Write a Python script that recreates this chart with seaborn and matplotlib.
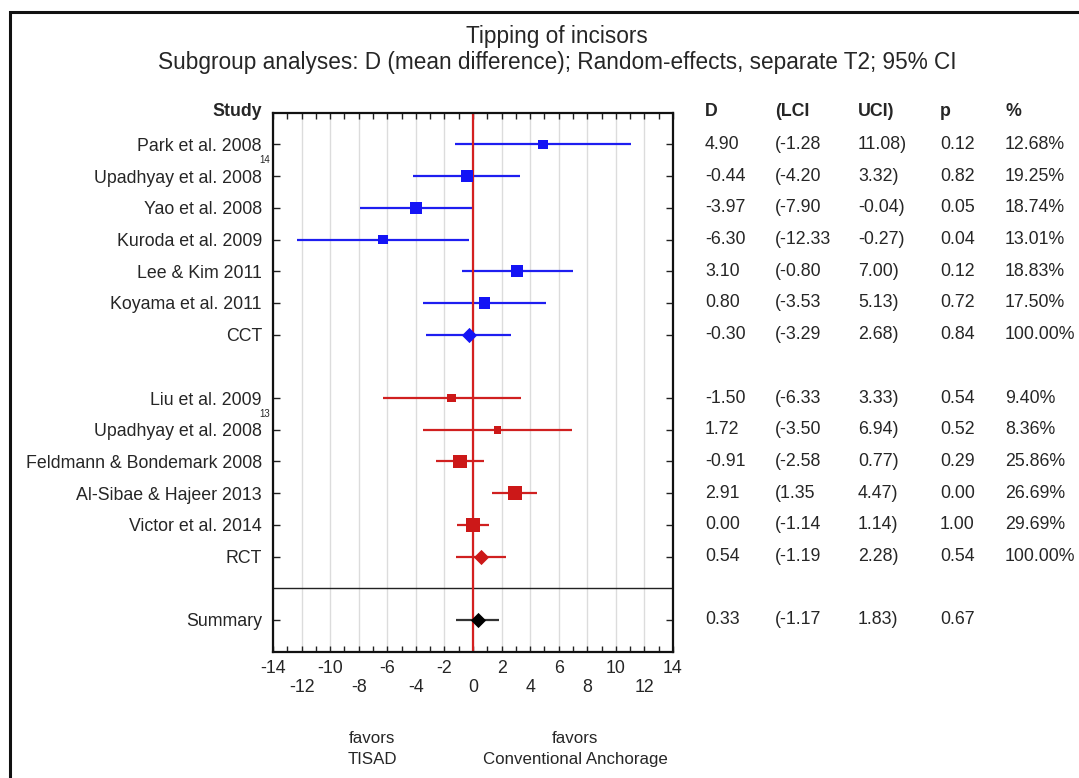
import numpy as np
import pandas as pd
import matplotlib
matplotlib.use("Agg")
import matplotlib.pyplot as plt
import matplotlib.transforms as mtransforms
from matplotlib.patches import Rectangle
import seaborn as sns

# ---------------- data ----------------
studies = ["Park et al. 2008", "Upadhyay et al. 2008", "Yao et al. 2008",
           "Kuroda et al. 2009", "Lee & Kim 2011", "Koyama et al. 2011", "CCT",
           "Liu et al. 2009", "Upadhyay et al. 2008", "Feldmann & Bondemark 2008",
           "Al-Sibae & Hajeer 2013", "Victor et al. 2014", "RCT", "Summary"]
superscripts = ["", "14", "", "", "", "", "", "", "13", "", "", "", "", ""]
d_vals = [4.90, -0.44, -3.97, -6.30, 3.10, 0.80, -0.30,
          -1.50, 1.72, -0.91, 2.91, 0.00, 0.54, 0.33]
lci_vals = [-1.28, -4.20, -7.90, -12.33, -0.80, -3.53, -3.29,
            -6.33, -3.50, -2.58, 1.35, -1.14, -1.19, -1.17]
uci_vals = [11.08, 3.32, -0.04, -0.27, 7.00, 5.13, 2.68,
            3.33, 6.94, 0.77, 4.47, 1.14, 2.28, 1.83]
p_vals = [0.12, 0.82, 0.05, 0.04, 0.12, 0.72, 0.84,
          0.54, 0.52, 0.29, 0.00, 1.00, 0.54, 0.67]
weights = [12.68, 19.25, 18.74, 13.01, 18.83, 17.50, 100.00,
           9.40, 8.36, 25.86, 26.69, 29.69, 100.00, None]
group = ["CCT"] * 7 + ["RCT"] * 6 + ["All"]
kind = ["study"] * 6 + ["pooled"] + ["study"] * 5 + ["pooled"] + ["summary"]
rows = [1, 2, 3, 4, 5, 6, 7, 9, 10, 11, 12, 13, 14, 16]
xticks = list(range(-14, 15, 2))
headers = ["D", "(LCI", "UCI)", "p", "%"]

df = pd.DataFrame({"study": studies, "d": d_vals, "lci": lci_vals, "uci": uci_vals,
                   "p": p_vals, "w": weights, "group": group, "kind": kind, "row": rows})

colors = {"CCT": "#1414f5", "RCT": "#cc1818", "All": "#000000"}
line_colors = {"CCT": "#1e1ef0", "RCT": "#d02020", "All": "#333333"}

# ---------------- figure ----------------
sns.set_style("white")
plt.rcParams["font.family"] = ["Liberation Sans", "DejaVu Sans"]
plt.rcParams["axes.unicode_minus"] = False

W, H = 1079, 778
fig = plt.figure(figsize=(W / 100, H / 100), dpi=100)
x0, x1, y0, y1 = 273, 673, 112.7, 651.7
ax = fig.add_axes([x0 / W, 1 - y1 / H, (x1 - x0) / W, (y1 - y0) / H])

fs = 12.8

# gridlines
for xv in xticks:
    ax.axvline(xv, color="#dcdcdc", lw=1.0, zorder=0)

# CI lines
for _, r in df.iterrows():
    ax.hlines(r["row"], r["lci"], r["uci"], color=line_colors[r["group"]], lw=1.6, zorder=2)

# study squares (area proportional to weight)
st = df[df["kind"] == "study"]
for g, sub in st.groupby("group"):
    sns.scatterplot(data=sub, x="d", y="row", size="w", sizes=(0, 380), size_norm=(0, 100),
                    marker="s", color=colors[g], edgecolor=colors[g], linewidth=0,
                    legend=False, ax=ax, zorder=3)
# pooled / summary diamonds
pl = df[df["kind"] != "study"]
for g, sub in pl.groupby("group"):
    sns.scatterplot(data=sub, x="d", y="row", marker="D", s=60, color=colors[g],
                    edgecolor=colors[g], linewidth=0, legend=False, ax=ax, zorder=4)

ax.axvline(0, color="#d42020", lw=1.6, zorder=2.5)
ax.axhline(15, color="#222222", lw=1.0, zorder=2)

ax.set_xlim(-14, 14)
ax.set_ylim(17, 0)
ax.set_xlabel("")
ax.set_ylabel("")

# x ticks: staggered labels
ax.set_xticks(xticks)
ax.set_xticklabels([str(v) if (v // 2) % 2 == 1 else "\n" + str(v) for v in xticks], fontsize=fs,
                   linespacing=1.15)
ax.set_xticks(range(-14, 15), minor=True)
ax.tick_params(axis="x", which="both", direction="in", top=True, bottom=True, length=4, width=1,
               pad=6, color="#222222")

# y ticks
ax.set_yticks(rows)
ax.set_yticklabels(studies, fontsize=fs)
ax.tick_params(axis="y", direction="in", left=True, right=True, length=5, width=1, pad=8,
               color="#222222")
for s in ax.spines.values():
    s.set_linewidth(1.6)
    s.set_color("#111111")

# "Study" header & superscripts
trans_l = mtransforms.blended_transform_factory(fig.transFigure, ax.transData)
fig.text(262 / W, 1 - 112 / H, "Study", fontsize=fs, fontweight="bold", ha="right", va="center")
for sup, r in zip(superscripts, rows):
    if sup:
        ax.text(265 / W, r - 0.5, sup, transform=trans_l, fontsize=7, ha="center", va="center")

# table columns
col_x = [705, 775, 858, 940, 1005]
for hx, h in zip(col_x, headers):
    fig.text(hx / W, 1 - 112 / H, h, fontsize=fs, fontweight="bold", ha="left", va="center")
for _, r in df.iterrows():
    vals = [f"{r['d']:.2f}", f"({r['lci']:.2f}", f"{r['uci']:.2f})", f"{r['p']:.2f}",
            "" if pd.isna(r["w"]) else f"{r['w']:.2f}%"]
    for cx, v in zip(col_x, vals):
        ax.text(cx / W, r["row"], v, transform=trans_l, fontsize=fs, ha="left", va="center")

# titles
tx = 557 / W
fig.text(tx, 1 - 37 / H, "Tipping of incisors", fontsize=16.3, ha="center", va="center")
fig.text(tx, 1 - 62 / H,
         "Subgroup analyses: D (mean difference); Random-effects, separate T2; 95% CI",
         fontsize=16.3, ha="center", va="center")

# favors labels
fig.text(372 / W, 1 - 749 / H, "favors\nTISAD", fontsize=fs * 0.95, ha="center", va="center",
         linespacing=1.55)
fig.text(575 / W, 1 - 749 / H, "favors\nConventional Anchorage", fontsize=fs * 0.95, ha="center",
         va="center", linespacing=1.55)

# outer frame
fig.patches.append(Rectangle((9.5 / W, -0.05), 1.2, 1 - 11.5 / H + 0.05, transform=fig.transFigure,
                             fill=False, lw=2.2, edgecolor="#111111"))

fig.savefig("out.png", dpi=100)
